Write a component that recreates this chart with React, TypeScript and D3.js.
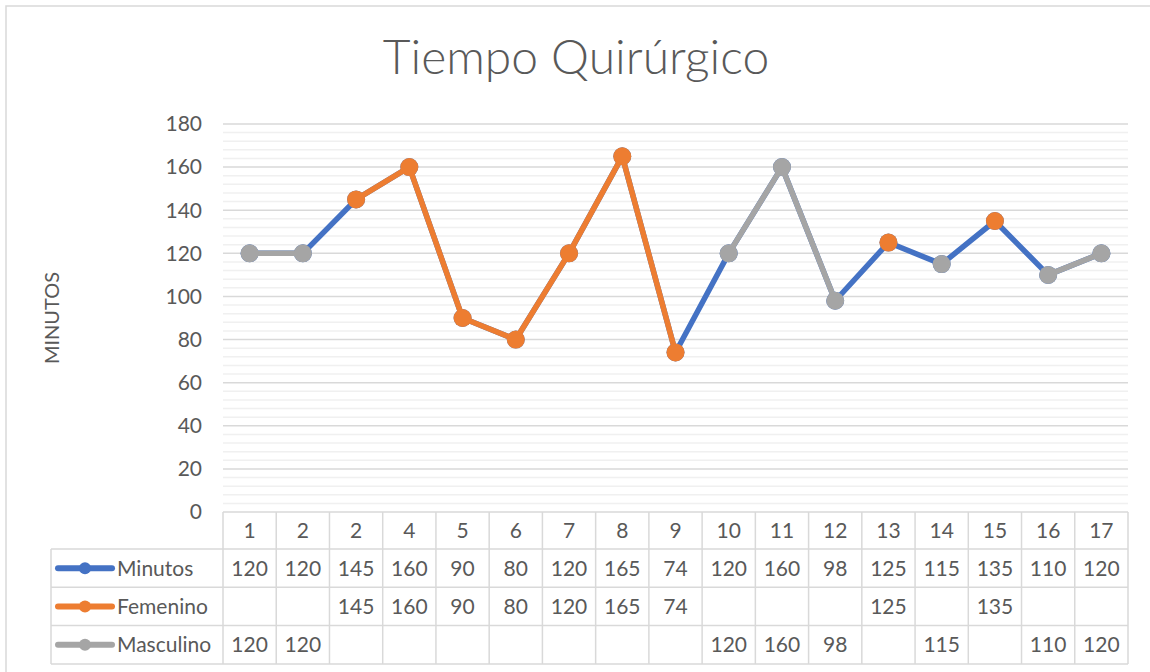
import React from "react";
import * as d3 from "d3";

const categories = ["1", "2", "2", "4", "5", "6", "7", "8", "9", "10", "11", "12", "13", "14", "15", "16", "17"];
const minutos: (number | null)[] = [120, 120, 145, 160, 90, 80, 120, 165, 74, 120, 160, 98, 125, 115, 135, 110, 120];
const femenino: (number | null)[] = [null, null, 145, 160, 90, 80, 120, 165, 74, null, null, null, 125, null, 135, null, null];
const masculino: (number | null)[] = [120, 120, null, null, null, null, null, null, null, 120, 160, 98, null, 115, null, 110, 120];
const yTicks = [0, 20, 40, 60, 80, 100, 120, 140, 160, 180];

const series = [
  { name: "Minutos", values: minutos, color: "#4472C4" },
  { name: "Femenino", values: femenino, color: "#ED7D31" },
  { name: "Masculino", values: masculino, color: "#A5A5A5" },
];

const W = 1150;
const H = 672;
const plotLeft = 223;
const plotRight = 1128;
const plotTop = 124;
const plotBottom = 512;
const tableLeft = 51;
const headerBottom = 549;
const rowH = 38.3;
const FONT = "Lato, 'Open Sans', sans-serif";
const TEXT = "#595959";
const GRID = "#d9d9d9";

export default function App() {
  const idx = categories.map((_, i) => i);
  const x = d3.scaleBand<number>().domain(idx).range([plotLeft, plotRight]).padding(0);
  const y = d3.scaleLinear().domain([0, 180]).range([plotBottom, plotTop]);
  const cx = (i: number) => (x(i) as number) + x.bandwidth() / 2;
  const minorTicks = d3.range(0, 181, 4);

  const line = d3
    .line<number | null>()
    .defined((d) => d !== null)
    .x((_, i) => cx(i))
    .y((d) => y(d as number));

  return (
    <svg width={W} height={H} style={{ display: "block", position: "absolute", left: 0, top: 0 }}>
      <rect x={0} y={0} width={W} height={H} fill="#fff" />
      <rect x={6} y={6} width={W} height={H} fill="#fff" stroke="#d9d9d9" strokeWidth={1.5} />
      <text x={576} y={74} textAnchor="middle" fontFamily={FONT} fontWeight={300} fontSize={48} fill={TEXT}>
        Tiempo Quirúrgico
      </text>
      <text
        transform={`translate(59,318) rotate(-90)`}
        textAnchor="middle"
        fontFamily={FONT}
        fontSize={20}
        fill={TEXT}
      >
        MINUTOS
      </text>
      {minorTicks
        .filter((t) => t % 20 !== 0)
        .map((t) => (
          <line key={"m" + t} x1={plotLeft} x2={plotRight} y1={y(t)} y2={y(t)} stroke="#f0f0f0" strokeWidth={1.5} />
        ))}
      {yTicks.map((t) => (
        <g key={t}>
          {t !== 0 && <line x1={plotLeft} x2={plotRight} y1={y(t)} y2={y(t)} stroke={GRID} strokeWidth={1.5} />}
          <text x={202} y={y(t)} dy="0.35em" textAnchor="end" fontFamily={FONT} fontSize={21} fill={TEXT}>
            {t}
          </text>
        </g>
      ))}
      {/* table */}
      <g stroke={GRID} strokeWidth={1.5} fill="none">
        <line x1={plotLeft} x2={plotRight} y1={plotBottom} y2={plotBottom} />
        {[0, 1, 2, 3].map((r) => (
          <line key={"h" + r} x1={tableLeft} x2={plotRight} y1={headerBottom + r * rowH} y2={headerBottom + r * rowH} />
        ))}
        <line x1={tableLeft} x2={tableLeft} y1={headerBottom} y2={headerBottom + 3 * rowH} />
        {idx.map((i) => (
          <line key={"v" + i} x1={x(i)} x2={x(i)} y1={plotBottom} y2={headerBottom + 3 * rowH} />
        ))}
        <line x1={plotRight} x2={plotRight} y1={plotBottom} y2={headerBottom + 3 * rowH} />
      </g>
      {categories.map((c, i) => (
        <text
          key={"c" + i}
          x={cx(i)}
          y={(plotBottom + headerBottom) / 2}
          dy="0.35em"
          textAnchor="middle"
          fontFamily={FONT}
          fontSize={21}
          fill={TEXT}
        >
          {c}
        </text>
      ))}
      {series.map((s, r) => {
        const ry = headerBottom + r * rowH + rowH / 2;
        return (
          <g key={"row" + s.name}>
            <line x1={58} x2={112} y1={ry} y2={ry} stroke={s.color} strokeWidth={6} strokeLinecap="round" />
            <circle cx={85} cy={ry} r={6} fill={s.color} />
            <text x={117} y={ry} dy="0.35em" fontFamily={FONT} fontSize={21} fill={TEXT}>
              {s.name}
            </text>
            {s.values.map((v, i) =>
              v === null ? null : (
                <text
                  key={i}
                  x={cx(i)}
                  y={ry}
                  dy="0.35em"
                  textAnchor="middle"
                  fontFamily={FONT}
                  fontSize={21}
                  fill={TEXT}
                >
                  {v}
                </text>
              )
            )}
          </g>
        );
      })}
      {/* series */}
      {series.map((s) => (
        <g key={"s" + s.name}>
          <path d={line(s.values) || ""} fill="none" stroke={s.color} strokeWidth={5.5} strokeLinejoin="round" />
          {s.values.map((v, i) =>
            v === null ? null : <circle key={i} cx={cx(i)} cy={y(v)} r={9} fill={s.color} />
          )}
        </g>
      ))}
    </svg>
  );
}
